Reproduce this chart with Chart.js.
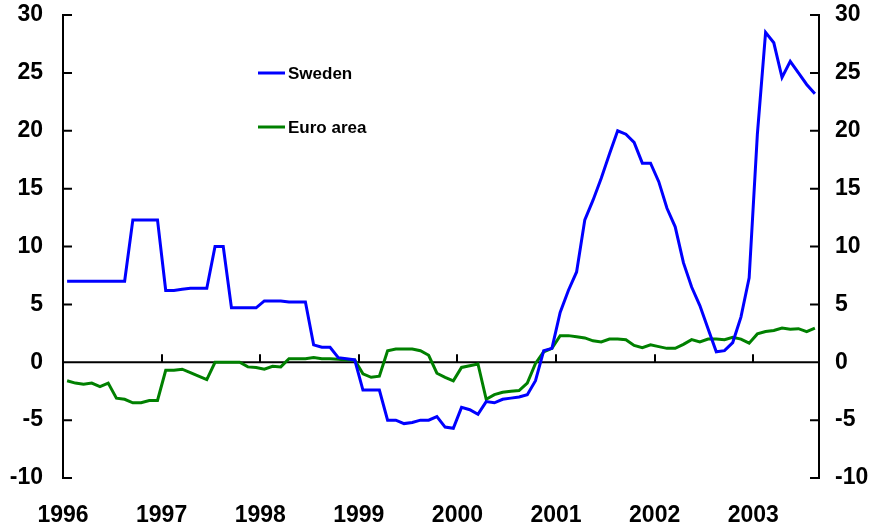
<!DOCTYPE html>
<html>
<head>
<meta charset="utf-8">
<script src="https://cdn.jsdelivr.net/npm/chart.js@4/dist/chart.umd.min.js"></script>
<style>
  html, body { margin: 0; padding: 0; background: #fff; }
  #wrap { width: 877px; height: 527px; position: relative; }
</style>
</head>
<body>
<div id="wrap"><canvas id="main-chart"></canvas></div>
<script>
  // monthly, Jan 1996 .. Aug 2003
  const yearLabels = ['1996', '1997', '1998', '1999', '2000', '2001', '2002', '2003'];
  const yTicks = [-10, -5, 0, 5, 10, 15, 20, 25, 30];

  const sweden = [
    7.0, 7.0, 7.0, 7.0, 7.0, 7.0, 7.0, 7.0, 12.3, 12.3, 12.3, 12.3,
    6.2, 6.2, 6.3, 6.4, 6.4, 6.4, 10.0, 10.0, 4.7, 4.7, 4.7, 4.7,
    5.3, 5.3, 5.3, 5.2, 5.2, 5.2, 1.5, 1.3, 1.3, 0.4, 0.3, 0.2,
    -2.4, -2.4, -2.4, -5.0, -5.0, -5.3, -5.2, -5.0, -5.0, -4.7, -5.6, -5.7,
    -3.9, -4.1, -4.5, -3.4, -3.5, -3.2, -3.1, -3.0, -2.8, -1.6, 1.0, 1.2,
    4.3, 6.2, 7.8, 12.3, 14.0, 15.9, 18.0, 20.0, 19.7, 19.0, 17.2, 17.2,
    15.6, 13.3, 11.7, 8.6, 6.5, 4.9, 2.9, 0.9, 1.0, 1.7, 3.9, 7.3,
    19.7, 28.5, 27.6, 24.6, 26.0, 25.0, 24.0, 23.2
  ];
  const euroArea = [
    -1.6, -1.8, -1.9, -1.8, -2.1, -1.8, -3.1, -3.2, -3.5, -3.5, -3.3, -3.3,
    -0.7, -0.7, -0.6, -0.9, -1.2, -1.5, 0.0, 0.0, 0.0, 0.0, -0.4, -0.45,
    -0.6, -0.35, -0.4, 0.3, 0.3, 0.3, 0.4, 0.3, 0.3, 0.25, 0.2, 0.2,
    -1.0, -1.3, -1.2, 1.0, 1.15, 1.15, 1.15, 1.0, 0.6, -0.95, -1.3, -1.6,
    -0.45, -0.3, -0.15, -3.2, -2.8, -2.6, -2.5, -2.45, -1.8, -0.1, 0.9, 1.2,
    2.3, 2.3, 2.2, 2.1, 1.85, 1.75, 2.0, 2.0, 1.95, 1.45, 1.25, 1.5,
    1.35, 1.2, 1.2, 1.55, 1.95, 1.75, 2.0, 2.0, 1.95, 2.15, 2.0, 1.65,
    2.45, 2.65, 2.75, 2.95, 2.85, 2.9, 2.65, 2.95
  ];

  const BLUE = '#0000FF';
  const GREEN = '#008000';
  const INK = '#000000';
  const FONT = '"Liberation Sans", Arial, sans-serif';

  // points sit mid-month
  const toPoints = arr => arr.map((v, i) => ({ x: i + 0.5, y: v }));

  // zero line with year ticks, inward ticks on both y axes, inline legend
  const decorPlugin = {
    id: 'decor',
    beforeDatasetsDraw(chart) {
      const { ctx, chartArea } = chart;
      const x = chart.scales.x, yl = chart.scales.y, yr = chart.scales.y2;
      const y0 = yl.getPixelForValue(0);
      ctx.save();
      ctx.strokeStyle = INK;
      ctx.lineWidth = 2;
      ctx.beginPath();
      ctx.moveTo(chartArea.left, y0);
      ctx.lineTo(chartArea.right, y0);
      yearLabels.forEach((_, i) => {
        if (i === 0) return;
        const px = Math.round(x.getPixelForValue(i * 12));
        ctx.moveTo(px, y0);
        ctx.lineTo(px, y0 - 8);
      });
      yTicks.forEach(v => {
        const py = yl.getPixelForValue(v);
        ctx.moveTo(chartArea.left, py);
        ctx.lineTo(chartArea.left + 9, py);
        const pr = yr.getPixelForValue(v);
        ctx.moveTo(chartArea.right, pr);
        ctx.lineTo(chartArea.right - 9, pr);
      });
      ctx.stroke();
      ctx.restore();
    },
    afterDatasetsDraw(chart) {
      const { ctx } = chart;
      const spots = [{ x: 258, y: 73 }, { x: 258, y: 127 }];
      ctx.save();
      ctx.font = 'bold 17px ' + FONT;
      ctx.textBaseline = 'middle';
      chart.data.datasets.forEach((ds, i) => {
        const s = spots[i];
        ctx.strokeStyle = ds.borderColor;
        ctx.lineWidth = 3;
        ctx.beginPath();
        ctx.moveTo(s.x, s.y);
        ctx.lineTo(s.x + 27, s.y);
        ctx.stroke();
        ctx.fillStyle = INK;
        ctx.fillText(ds.label, s.x + 30, s.y + 1);
      });
      ctx.restore();
    }
  };

  const yAxis = (position, width, pad) => ({
    type: 'linear',
    position,
    min: -10,
    max: 30,
    afterBuildTicks: s => { s.ticks = yTicks.map(v => ({ value: v })); },
    afterFit: s => { s.width = width; s.paddingTop = 0; s.paddingBottom = 0; },
    border: { display: true, color: INK, width: 2 },
    grid: { display: false, drawTicks: false },
    ticks: {
      color: INK,
      padding: pad,
      font: { family: FONT, size: 23, weight: 'bold' }
    }
  });

  new Chart(document.getElementById('main-chart'), {
    type: 'line',
    data: {
      datasets: [
        { label: 'Sweden', data: toPoints(sweden), borderColor: BLUE, backgroundColor: BLUE,
          borderWidth: 3, pointRadius: 0, tension: 0 },
        { label: 'Euro area', data: toPoints(euroArea), borderColor: GREEN, backgroundColor: GREEN,
          borderWidth: 3, pointRadius: 0, tension: 0 }
      ]
    },
    options: {
      responsive: true,
      maintainAspectRatio: false,
      animation: false,
      layout: { padding: { top: 15, left: 0, right: 0, bottom: 0 } },
      plugins: {
        legend: { display: false },
        tooltip: { enabled: false },
        title: { display: false }
      },
      scales: {
        x: {
          type: 'linear',
          min: 0,
          max: 92,
          afterBuildTicks: s => { s.ticks = yearLabels.map((_, i) => ({ value: i * 12 })); },
          afterFit: s => { s.height = 49; s.paddingLeft = 0; s.paddingRight = 0; },
          border: { display: false },
          grid: { display: false, drawTicks: false },
          ticks: {
            color: INK,
            padding: 24,
            maxRotation: 0,
            autoSkip: false,
            font: { family: FONT, size: 23, weight: 'bold' },
            callback: v => yearLabels[Math.round(v / 12)]
          }
        },
        y: yAxis('left', 63, 20),
        y2: yAxis('right', 58, 16)
      }
    },
    plugins: [decorPlugin]
  });
</script>
</body>
</html>
